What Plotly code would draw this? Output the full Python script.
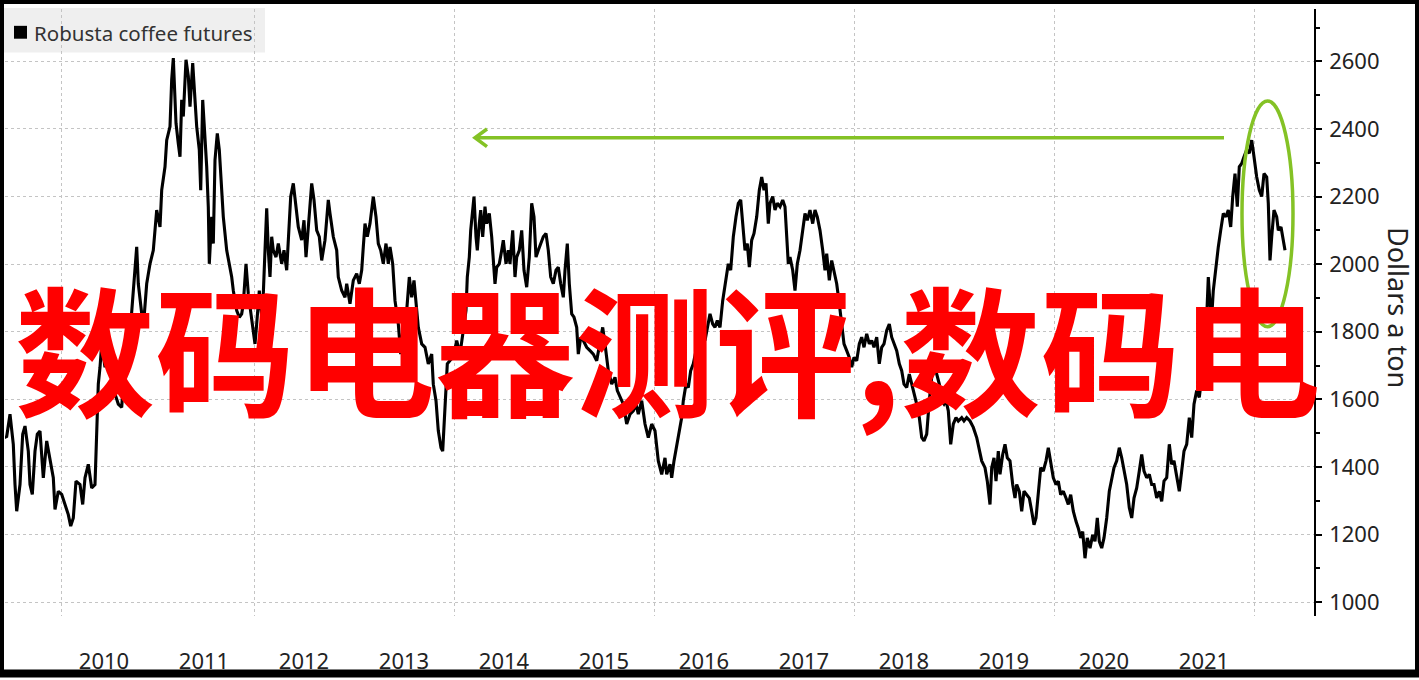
import plotly.graph_objects as go

# ---------------- data ----------------
years = [
    2009.493, 2009.527, 2009.56, 2009.593, 2009.61, 2009.627, 2009.66, 2009.687, 2009.71, 2009.743,
    2009.76, 2009.783, 2009.81, 2009.833, 2009.86, 2009.893, 2009.927, 2009.96, 2009.993, 2010.01,
    2010.043, 2010.077, 2010.11, 2010.143, 2010.167, 2010.193, 2010.22, 2010.26, 2010.287, 2010.31,
    2010.343, 2010.377, 2010.41, 2010.427, 2010.443, 2010.46, 2010.477, 2010.51, 2010.543, 2010.577,
    2010.61, 2010.643, 2010.677, 2010.693, 2010.727, 2010.76, 2010.793, 2010.827, 2010.843, 2010.877,
    2010.893, 2010.927, 2010.96, 2010.993, 2011.01, 2011.027, 2011.06, 2011.077, 2011.11, 2011.127,
    2011.16, 2011.177, 2011.193, 2011.22, 2011.243, 2011.26, 2011.277, 2011.293, 2011.32, 2011.343,
    2011.36, 2011.387, 2011.41, 2011.427, 2011.453, 2011.467, 2011.487, 2011.51, 2011.527, 2011.543,
    2011.553, 2011.577, 2011.593, 2011.61, 2011.633, 2011.653, 2011.677, 2011.693, 2011.727, 2011.753,
    2011.777, 2011.793, 2011.827, 2011.853, 2011.877, 2011.893, 2011.92, 2011.943, 2011.967, 2011.987,
    2012.01, 2012.027, 2012.053, 2012.077, 2012.093, 2012.11, 2012.127, 2012.143, 2012.16, 2012.177,
    2012.193, 2012.22, 2012.243, 2012.277, 2012.3, 2012.327, 2012.343, 2012.367, 2012.393, 2012.42,
    2012.443, 2012.477, 2012.5, 2012.52, 2012.543, 2012.577, 2012.6, 2012.627, 2012.653, 2012.677,
    2012.71, 2012.743,
    2012.76, 2012.793, 2012.827, 2012.843, 2012.877, 2012.91, 2012.927, 2012.96, 2012.993, 2013.027,
    2013.053, 2013.077, 2013.093, 2013.11, 2013.133, 2013.16, 2013.193, 2013.22, 2013.243, 2013.267,
    2013.293, 2013.32, 2013.343, 2013.36, 2013.387, 2013.41, 2013.443, 2013.467, 2013.493, 2013.527,
    2013.553, 2013.577, 2013.6, 2013.62, 2013.643, 2013.677, 2013.71, 2013.743, 2013.777, 2013.793,
    2013.82, 2013.843, 2013.87, 2013.887, 2013.91, 2013.933, 2013.96, 2013.993, 2014.027, 2014.06,
    2014.093, 2014.12, 2014.133, 2014.153, 2014.167, 2014.187, 2014.2, 2014.22, 2014.233, 2014.253,
    2014.267, 2014.287, 2014.31, 2014.327, 2014.353, 2014.377, 2014.393, 2014.41, 2014.427, 2014.453,
    2014.477, 2014.493, 2014.52, 2014.543, 2014.56, 2014.587, 2014.61, 2014.627, 2014.653, 2014.677,
    2014.7, 2014.727, 2014.753, 2014.777, 2014.8, 2014.82, 2014.843, 2014.867, 2014.893, 2014.92,
    2014.943, 2014.967, 2014.993, 2015.02, 2015.043, 2015.067, 2015.093, 2015.11, 2015.133, 2015.153,
    2015.177, 2015.2, 2015.227, 2015.243, 2015.267, 2015.293, 2015.327, 2015.36, 2015.393, 2015.427,
    2015.46, 2015.487, 2015.51, 2015.543, 2015.577, 2015.61, 2015.633, 2015.66, 2015.693, 2015.727,
    2015.76, 2015.793, 2015.82, 2015.843, 2015.877, 2015.91, 2015.943, 2015.977, 2016.01, 2016.043,
    2016.077, 2016.11, 2016.127, 2016.16, 2016.177, 2016.2, 2016.227, 2016.253, 2016.277, 2016.293,
    2016.32, 2016.343, 2016.367, 2016.393, 2016.42, 2016.453, 2016.477, 2016.51, 2016.533, 2016.56,
    2016.587, 2016.61, 2016.633, 2016.66, 2016.687, 2016.71, 2016.743, 2016.767, 2016.793, 2016.82,
    2016.843, 2016.867, 2016.887, 2016.91, 2016.933, 2016.953, 2016.977, 2017.0, 2017.027, 2017.053,
    2017.077, 2017.1, 2017.12, 2017.143, 2017.16, 2017.187, 2017.21, 2017.233, 2017.26, 2017.287,
    2017.31, 2017.327, 2017.343, 2017.36, 2017.387, 2017.41, 2017.433, 2017.46, 2017.487, 2017.51,
    2017.533, 2017.56, 2017.587, 2017.61, 2017.633, 2017.66, 2017.687, 2017.71, 2017.727, 2017.753,
    2017.777, 2017.8, 2017.827, 2017.853, 2017.877, 2017.9, 2017.927, 2017.953, 2017.977, 2018.0,
    2018.027, 2018.053, 2018.077, 2018.1, 2018.127, 2018.153, 2018.177, 2018.2, 2018.227, 2018.253,
    2018.277, 2018.3, 2018.327, 2018.353, 2018.377, 2018.4, 2018.427, 2018.453, 2018.477, 2018.5,
    2018.527, 2018.553, 2018.577, 2018.6, 2018.627, 2018.653, 2018.677, 2018.7, 2018.727, 2018.753,
    2018.777, 2018.8, 2018.827, 2018.853, 2018.877, 2018.9, 2018.92, 2018.943, 2018.967, 2018.993,
    2019.02, 2019.043, 2019.077, 2019.1, 2019.127, 2019.16, 2019.193, 2019.227, 2019.253, 2019.277,
    2019.31, 2019.333, 2019.36,
    2019.377, 2019.4, 2019.42, 2019.443, 2019.46, 2019.487, 2019.51, 2019.533, 2019.56, 2019.587,
    2019.61, 2019.627, 2019.653, 2019.677, 2019.7, 2019.727, 2019.753, 2019.777, 2019.8, 2019.82,
    2019.843, 2019.867, 2019.893, 2019.92, 2019.943, 2019.967, 2019.993, 2020.02, 2020.043, 2020.067,
    2020.093, 2020.12, 2020.143, 2020.167, 2020.193, 2020.22, 2020.243, 2020.267, 2020.287, 2020.31,
    2020.333, 2020.36, 2020.387, 2020.41, 2020.433, 2020.453, 2020.477, 2020.5, 2020.527, 2020.553,
    2020.577, 2020.6, 2020.627, 2020.653, 2020.677, 2020.7, 2020.727, 2020.753, 2020.777, 2020.8,
    2020.827, 2020.853, 2020.877, 2020.9, 2020.927, 2020.953, 2020.977, 2021.0, 2021.027, 2021.053,
    2021.077, 2021.1, 2021.127, 2021.153, 2021.177, 2021.2, 2021.227, 2021.253, 2021.277, 2021.3,
    2021.327, 2021.353, 2021.377, 2021.4, 2021.427, 2021.453, 2021.477, 2021.5, 2021.527, 2021.543,
    2021.56, 2021.577, 2021.593, 2021.62, 2021.643, 2021.667, 2021.693, 2021.72, 2021.743, 2021.767,
    2021.787, 2021.81, 2021.833, 2021.853, 2021.877, 2021.9, 2021.927, 2021.953, 2021.977, 2022.0,
    2022.027, 2022.053, 2022.077, 2022.1, 2022.127, 2022.143, 2022.16, 2022.177, 2022.2, 2022.227,
    2022.243, 2022.27, 2022.287, 2022.31,
]

prices = [
    1485, 1490, 1556, 1467, 1348, 1269, 1348, 1497, 1521, 1447,
    1348, 1319, 1447, 1497, 1506, 1368, 1477, 1427, 1368, 1274,
    1328, 1319, 1289, 1259, 1225, 1249, 1358, 1348, 1289, 1368,
    1408, 1338, 1348, 1546, 1645, 1695, 1764, 1695, 1744, 1665,
    1616, 1586, 1576, 1645, 1695, 1794, 1922, 2051, 1942, 1843,
    1813, 1942, 2001, 2041, 2100, 2160, 2110, 2219, 2288, 2367,
    2407, 2546, 2610, 2417, 2357, 2318, 2486, 2437, 2605, 2556,
    2466, 2595, 2486, 2407, 2338, 2219, 2486, 2387, 2288, 2169,
    2001, 2140, 2061, 2308, 2387, 2338, 2219, 2140, 2041, 2001,
    1962, 1922, 1863, 1843, 1853, 1883, 2001, 1912, 1863, 1813,
    1764, 1823, 1922, 1843, 1912, 2041, 2165, 2041, 1962, 2081,
    2041, 2021, 2061, 2001, 2041, 1982, 2081, 2200, 2239, 2170,
    2110, 2071, 2130, 2021, 2110, 2239, 2190, 2100, 2081, 2011,
    2071, 2190,
    2150, 2081, 2041, 1962, 1922, 1902, 1942, 1883, 1952, 1972,
    1942, 1982, 2051, 2120, 2081, 2120, 2200, 2140, 2061, 2041,
    2001, 2061, 2001, 2051, 2001, 1892, 1823, 1734, 1823, 1863,
    1962, 1902, 1952, 1883, 1813, 1764, 1754, 1705, 1734, 1645,
    1596, 1507, 1457, 1447, 1596, 1705, 1715, 1725, 1774, 1734,
    1804, 1863, 1962, 2021, 2100, 2160, 2200, 2081, 2041, 2120,
    2160, 2081, 2170, 2120, 2150, 2081, 2021, 1942, 1991, 2001,
    2041, 2071, 2001, 2041, 2001, 2100, 1962, 2021, 2041, 2100,
    1982, 1932, 2021, 2180, 2140, 2021, 2041, 2061, 2081, 2091,
    2041, 1962, 1942, 1982, 1991, 1942, 1902, 1982, 2061, 1942,
    1853, 1843, 1813, 1734, 1783, 1774, 1754, 1744, 1734, 1714,
    1774, 1813, 1764, 1685, 1645, 1665, 1626, 1606, 1586, 1527,
    1556, 1566, 1586, 1556, 1596, 1527, 1487, 1527, 1507, 1418,
    1378, 1427, 1378, 1408, 1368, 1418, 1467, 1507, 1546, 1596,
    1645, 1635, 1685, 1705, 1744, 1764, 1784, 1774, 1813, 1853,
    1823, 1813, 1833, 1813, 1892, 1942, 2001, 1982, 2081, 2140,
    2180, 2190, 2120, 2041, 2061, 1991, 2071, 2091, 2140, 2219,
    2258, 2219, 2239, 2120, 2180, 2200, 2160, 2180, 2170, 2190,
    2170, 2091, 2001, 2021, 1982, 1922, 2001, 2041, 2100, 2150,
    2130, 2160, 2120, 2160, 2140, 2100, 2041, 1982, 2031, 1952,
    2011, 1982, 1942, 1883, 1813, 1764, 1744, 1724, 1695, 1724,
    1714, 1764, 1784, 1754, 1794, 1764, 1774, 1754, 1784, 1705,
    1754, 1764, 1804, 1823, 1784, 1764, 1744, 1705, 1685, 1645,
    1635, 1675, 1645, 1626, 1586, 1546, 1487, 1477, 1497, 1596,
    1665, 1695, 1675, 1645, 1596, 1586, 1596, 1566, 1467, 1527,
    1546, 1536, 1546, 1536, 1546, 1536, 1517, 1487, 1447, 1418,
    1398, 1358, 1289,
    1398, 1427, 1358, 1447, 1378, 1437, 1467, 1427, 1418, 1348,
    1308, 1348, 1328, 1269, 1328, 1318, 1308, 1269, 1229, 1249,
    1328, 1398, 1388, 1418, 1457, 1408, 1368, 1348, 1358, 1318,
    1328, 1308, 1289, 1318, 1269, 1239, 1219, 1190, 1209, 1130,
    1190, 1160, 1199, 1180, 1249, 1180, 1160, 1190, 1249, 1328,
    1368, 1398, 1418, 1457, 1427, 1388, 1348, 1279, 1249, 1308,
    1338, 1388, 1437, 1388, 1368, 1378, 1348, 1348, 1308, 1328,
    1298, 1358, 1368, 1467, 1408, 1418, 1378, 1328, 1388, 1447,
    1467, 1546, 1487, 1586, 1626, 1606, 1665, 1724, 1843, 1962,
    1883, 1843, 1922, 2001, 2051, 2100, 2150, 2140, 2160, 2110,
    2200, 2268, 2170, 2288, 2298, 2318, 2338, 2328, 2367, 2318,
    2258, 2219, 2200, 2268, 2258, 2180, 2011, 2081, 2160, 2140,
    2100, 2110, 2081, 2041,
]

series_name = "Robusta coffee futures"
y_title = "Dollars a ton"
year_label_pos = [2010.5 + i for i in range(12)]
year_labels = [str(2010 + i) for i in range(12)]
x_grid_pos = [2010.07, 2012, 2014, 2016, 2018, 2020, 2022]
y_major = list(range(1000, 2601, 200))
y_minor = list(range(1100, 2701, 200))
watermark = "数码电器测评,数码电"

# ---------------- layout geometry / style ----------------
W, H = 1419, 680
PL, PR, PT, PB = 5, 1314, 9, 622
X_RANGE = [2009.51, 2022.60]
Y_RANGE = [959, 2755]
GREEN = "#84c225"


def pxx(px):
    return (px - PL) / (PR - PL)


def pxy(py):
    return (PB - py) / (PB - PT)


fig = go.Figure()
fig.add_trace(go.Scatter(
    x=years, y=prices, mode="lines", name=series_name,
    line=dict(color="#000000", width=3.1), showlegend=False,
))

shapes = [
    # legend box
    dict(type="rect", xref="paper", yref="paper", x0=pxx(0), x1=pxx(265), y0=pxy(53), y1=pxy(8),
         fillcolor="#efefef", line=dict(width=0), layer="below"),
    dict(type="rect", xref="paper", yref="paper", x0=pxx(14), x1=pxx(27), y0=pxy(39), y1=pxy(26),
         fillcolor="#000000", line=dict(width=0), layer="above"),
    # green arrow
    dict(type="line", xref="x", yref="y", x0=2014.21, x1=2021.70, y0=2374, y1=2374,
         line=dict(color=GREEN, width=3.5), layer="above"),
    dict(type="path", xref="x", yref="y",
         path="M 2014.33 2400 L 2014.21 2374 L 2014.33 2348",
         line=dict(color=GREEN, width=3.5), layer="above"),
    # green ellipse
    dict(type="circle", xref="x", yref="y", x0=2021.88, x1=2022.39, y0=1815, y1=2483,
         line=dict(color=GREEN, width=3.5), layer="above"),
    # outer black frame
    dict(type="rect", xref="paper", yref="paper", x0=pxx(0), x1=pxx(W), y0=pxy(H), y1=pxy(0),
         line=dict(color="#000000", width=8), fillcolor="rgba(0,0,0,0)", layer="above"),
]

annotations = [
    dict(text=series_name, xref="paper", yref="paper", x=pxx(32), y=pxy(33),
         xanchor="left", yanchor="middle", showarrow=False,
         font=dict(family="Noto Sans", size=20.5, color="#333333")),
    dict(text=y_title, xref="paper", yref="paper", x=pxx(1399), y=pxy(311),
         xanchor="center", yanchor="middle", showarrow=False, textangle=90,
         font=dict(family="Noto Sans", size=27, color="#222222")),
    dict(text=watermark, xref="paper", yref="paper", x=pxx(668), y=pxy(348),
         xanchor="center", yanchor="middle", showarrow=False,
         font=dict(family="Noto Sans CJK SC", size=140, color="#ff0000", weight="bold")),
]

fig.update_layout(
    width=W, height=H,
    margin=dict(l=PL, r=W - PR, t=PT, b=H - PB, pad=0),
    paper_bgcolor="#ffffff", plot_bgcolor="rgba(0,0,0,0)",
    showlegend=False,
    shapes=shapes, annotations=annotations,
    xaxis=dict(
        range=X_RANGE, tickmode="array", tickvals=year_label_pos, ticktext=year_labels,
        showgrid=False, zeroline=False, showline=False, ticks="",
        ticklabelstandoff=30,
        tickfont=dict(family="Noto Sans", size=22, color="#222222"),
        minor=dict(tickmode="array", tickvals=x_grid_pos, showgrid=True,
                   gridcolor="#c4c4c4", griddash="dot", gridwidth=1, ticks=""),
    ),
    yaxis=dict(
        range=Y_RANGE, side="right", tickmode="array", tickvals=y_major,
        showgrid=True, gridcolor="#c4c4c4", griddash="dot", gridwidth=1,
        zeroline=False, showline=True, linecolor="#000000", linewidth=1.5,
        ticks="outside", ticklen=6, tickwidth=1.5, tickcolor="#000000",
        ticklabelstandoff=3,
        tickfont=dict(family="Noto Sans", size=22, color="#222222"),
        minor=dict(tickmode="array", tickvals=y_minor, ticks="outside", ticklen=4,
                   tickwidth=1.5, tickcolor="#000000", showgrid=False),
    ),
)

fig.write_html("out.html", config={"displayModeBar": False},
               post_script="document.body.style.margin='0px';")
